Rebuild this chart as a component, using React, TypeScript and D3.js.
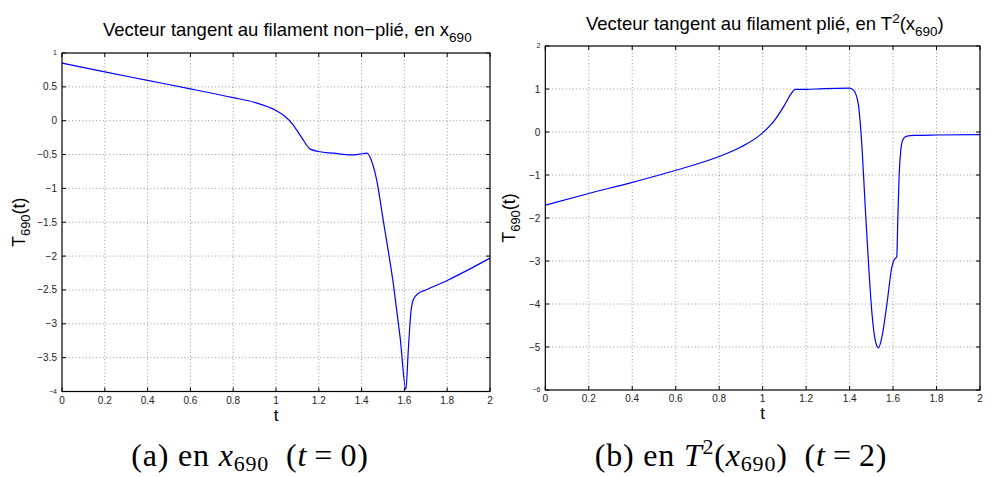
import React from 'react';
import * as d3 from 'd3';

// ---- data ----
const tA = [0, 0.2, 0.4, 0.6, 0.8, 0.9, 1.0, 1.04, 1.08, 1.12, 1.16, 1.2, 1.27, 1.35, 1.39, 1.425, 1.445, 1.47, 1.5, 1.55, 1.58, 1.607, 1.618, 1.63, 1.642, 1.665, 1.7, 1.8, 1.9, 2.0];
const vA = [0.85, 0.72, 0.595, 0.47, 0.34, 0.27, 0.15, 0.07, -0.06, -0.25, -0.42, -0.455, -0.48, -0.505, -0.495, -0.48, -0.58, -0.87, -1.45, -2.45, -3.2, -3.97, -3.4, -2.84, -2.64, -2.55, -2.5, -2.36, -2.2, -2.03];

const tB = [0, 0.2, 0.4, 0.6, 0.8, 0.9, 1.0, 1.05, 1.1, 1.13, 1.15, 1.2, 1.28, 1.4, 1.42, 1.44, 1.457, 1.472, 1.487, 1.503, 1.518, 1.533, 1.549, 1.572, 1.595, 1.605, 1.617, 1.622, 1.628, 1.636, 1.645, 1.66, 1.7, 1.8, 2.0];
const vB = [-1.70, -1.43, -1.17, -0.89, -0.57, -0.35, -0.02, 0.24, 0.62, 0.88, 0.99, 0.99, 1.01, 1.02, 0.96, 0.65, -0.35, -1.75, -3.05, -4.22, -4.84, -5.02, -4.76, -3.99, -3.13, -2.97, -2.9, -2.0, -1.0, -0.4, -0.18, -0.1, -0.08, -0.07, -0.06];

const xTicks = [0, 0.2, 0.4, 0.6, 0.8, 1, 1.2, 1.4, 1.6, 1.8, 2];
const xTickLabels = ['0', '0.2', '0.4', '0.6', '0.8', '1', '1.2', '1.4', '1.6', '1.8', '2'];
const yTicksA = [1, 0.5, 0, -0.5, -1, -1.5, -2, -2.5, -3, -3.5, -4];
const yTickLabelsA = ['1', '0.5', '0', '\u22120.5', '\u22121', '\u22121.5', '\u22122', '\u22122.5', '\u22123', '\u22123.5', '\u22124'];
const yTicksB = [2, 1, 0, -1, -2, -3, -4, -5, -6];
const yTickLabelsB = ['2', '1', '0', '\u22121', '\u22122', '\u22123', '\u22124', '\u22125', '\u22126'];

const SANS = '"Liberation Sans", Arial, Helvetica, sans-serif';
const SERIF = '"Liberation Serif", "Times New Roman", serif';

type PanelProps = {
  left: number; right: number; top: number; bottom: number;
  t: number[]; v: number[]; yDomain: [number, number];
  yTicks: number[]; yLabels: string[];
  title: React.ReactNode; titleX: number; titleY: number;
  ylabelX: number;
};

function Panel(p: PanelProps) {
  const x = d3.scaleLinear().domain([0, 2]).range([p.left, p.right]);
  const y = d3.scaleLinear().domain(p.yDomain).range([p.bottom, p.top]);
  const pts = p.t.map((tt, i) => [tt, p.v[i]] as [number, number]);
  const line = d3.line<[number, number]>().x(d => x(d[0])).y(d => y(d[1])).curve(d3.curveMonotoneX);
  const tickLen = 4;
  const yMin = p.yDomain[0], yMax = p.yDomain[1];
  const cy = (p.top + p.bottom) / 2;
  return (
    <g>
      {xTicks.filter(v => v > 0 && v < 2).map(v => (
        <line key={'gx' + v} x1={x(v)} x2={x(v)} y1={p.top} y2={p.bottom} stroke="#555" strokeWidth={0.6} strokeDasharray="1 2.4" />
      ))}
      {p.yTicks.filter(v => v > yMin && v < yMax).map(v => (
        <line key={'gy' + v} x1={p.left} x2={p.right} y1={y(v)} y2={y(v)} stroke="#555" strokeWidth={0.6} strokeDasharray="1 2.4" />
      ))}
      {xTicks.map(v => (
        <g key={'tx' + v}>
          <line x1={x(v)} x2={x(v)} y1={p.bottom} y2={p.bottom - tickLen} stroke="#000" strokeWidth={1} />
          <line x1={x(v)} x2={x(v)} y1={p.top} y2={p.top + tickLen} stroke="#000" strokeWidth={1} />
        </g>
      ))}
      {p.yTicks.map(v => (
        <g key={'ty' + v}>
          <line x1={p.left} x2={p.left + tickLen} y1={y(v)} y2={y(v)} stroke="#000" strokeWidth={1} />
          <line x1={p.right} x2={p.right - tickLen} y1={y(v)} y2={y(v)} stroke="#000" strokeWidth={1} />
        </g>
      ))}
      <path d={line(pts) || ''} fill="none" stroke="#0000ff" strokeWidth={1.2} />
      <rect x={p.left} y={p.top} width={p.right - p.left} height={p.bottom - p.top} fill="none" stroke="#000" strokeWidth={1.2} />
      {xTicks.map((v, i) => (
        <text key={'lx' + v} x={x(v)} y={p.bottom + 12} textAnchor="middle" fontFamily={SANS} fontSize={10} fill="#222">{xTickLabels[i]}</text>
      ))}
      {p.yTicks.map((v, i) => {
        const edge = v === yMin || v === yMax;
        return (
          <text key={'ly' + v} x={p.left - 5} y={y(v)} dy="0.35em" textAnchor="end" fontFamily={SANS} fontSize={edge ? 7 : 10} fill="#222">{p.yLabels[i]}</text>
        );
      })}
      <text x={(p.left + p.right) / 2} y={p.bottom + 29} textAnchor="middle" fontFamily={SANS} fontSize={17}>t</text>
      <text transform={`translate(${p.ylabelX},${cy}) rotate(-90)`} textAnchor="middle" fontFamily={SANS} fontSize={18}>
        T<tspan fontSize={13} dy={5}>690</tspan><tspan dy={-5}>(t)</tspan>
      </text>
      <text x={p.titleX} y={p.titleY} textAnchor="start" fontFamily={SANS} fontSize={18.5}>{p.title}</text>
    </g>
  );
}

export default function App() {
  return (
    <svg width={986} height={477} viewBox="0 0 986 477" style={{ position: 'absolute', left: 0, top: 0, background: '#fff' }}>
      <rect x={0} y={0} width={986} height={477} fill="#fff" />
      <Panel left={62} right={490} top={53} bottom={391.5} t={tA} v={vA} yDomain={[-4, 1]}
        yTicks={yTicksA} yLabels={yTickLabelsA} titleX={103} titleY={36} ylabelX={25}
        title={<>Vecteur tangent au filament non{'\u2212'}plié, en x<tspan fontSize={13.5} dy={6}>690</tspan></>} />
      <Panel left={545.3} right={980} top={46} bottom={390} t={tB} v={vB} yDomain={[-6, 2]}
        yTicks={yTicksB} yLabels={yTickLabelsB} titleX={586} titleY={30} ylabelX={515}
        title={<>Vecteur tangent au filament plié, en T<tspan fontSize={13.5} dy={-7}>2</tspan><tspan dy={7}>(x</tspan><tspan fontSize={13.5} dy={6}>690</tspan><tspan dy={-6}>)</tspan></>} />
      <text x={250} y={466} textAnchor="middle" fontFamily={SERIF} fontSize={32} letterSpacing={0.8}>
        (a) en <tspan fontStyle="italic">x</tspan><tspan fontSize={22} dy={5}>690</tspan><tspan dy={-5}>{'\u2002'}(</tspan><tspan fontStyle="italic">t</tspan>{'\u2009'}={'\u2009'}0)
      </text>
      <text x={741} y={466} textAnchor="middle" fontFamily={SERIF} fontSize={32} letterSpacing={0.8}>
        (b) en <tspan fontStyle="italic">T</tspan><tspan fontSize={22} dy={-12}>2</tspan><tspan dy={12}>(</tspan><tspan fontStyle="italic">x</tspan><tspan fontSize={22} dy={5}>690</tspan><tspan dy={-5}>){'\u2002'}(</tspan><tspan fontStyle="italic">t</tspan>{'\u2009'}={'\u2009'}2)
      </text>
    </svg>
  );
}
